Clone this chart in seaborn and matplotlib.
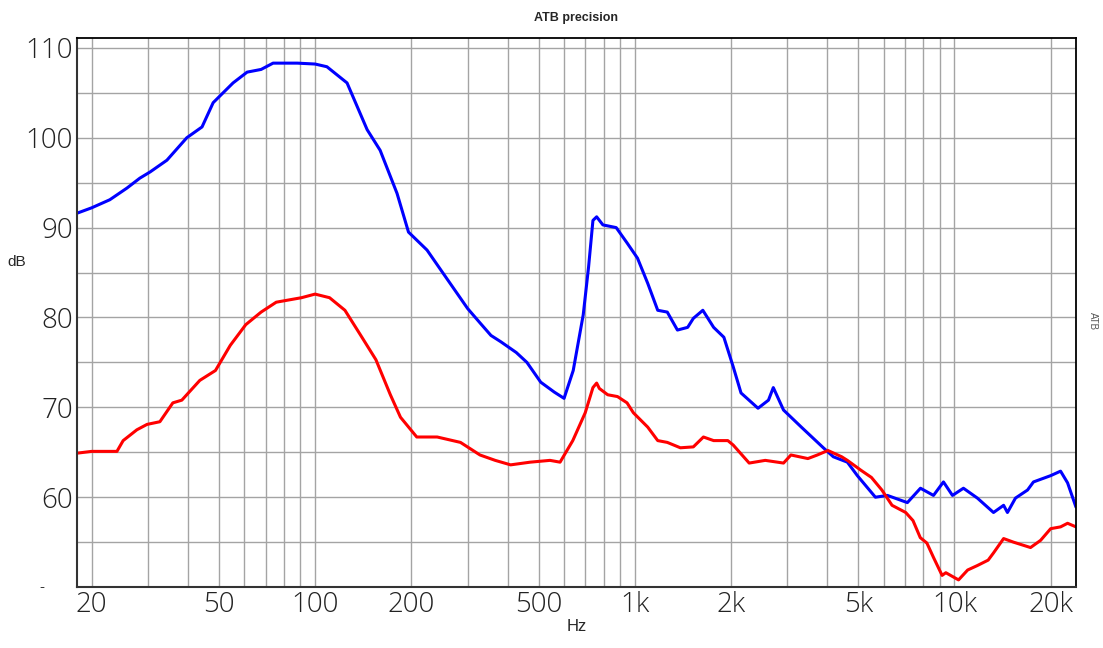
import matplotlib
matplotlib.use("Agg")
import matplotlib.pyplot as plt
import matplotlib.ticker as mticker
import numpy as np
import pandas as pd
import seaborn as sns

# blue trace (upper), frequency in Hz and level in dB
blue_hz = [18, 20, 22.8, 25.8, 28.3, 30.5, 34.4, 39.7, 44.3, 48.0, 55.4, 61.3, 67.8,
           73.9, 88.0, 100, 108.9, 125.9, 145.5, 159.8, 180.5, 196, 224, 254, 300,
           328, 355, 381, 426, 460, 508, 560, 601, 642, 690, 717, 740, 760, 795,
           875, 946, 1020, 1098, 1180, 1264, 1360, 1464, 1525, 1633, 1765, 1900,
           2033, 2150, 2430, 2620, 2713, 2920, 3320, 3890, 4180, 4625, 4970, 5660,
           6170, 7125, 7830, 8600, 9240, 9860, 10670, 11800, 13250, 14250, 14650,
           15520, 16930, 17670, 20000, 21480, 22590, 24000]
blue_db = [91.6, 92.2, 93.1, 94.4, 95.5, 96.2, 97.5, 100.0, 101.2, 103.9, 106.1, 107.3,
           107.6, 108.3, 108.3, 108.2, 107.9, 106.1, 100.9, 98.6, 93.8, 89.5, 87.5,
           84.7, 81.0, 79.4, 78.0, 77.3, 76.1, 75.0, 72.8, 71.7, 71.0, 74.1, 80.3,
           85.6, 90.8, 91.2, 90.3, 90.0, 88.3, 86.6, 83.8, 80.8, 80.6, 78.6, 78.9,
           79.9, 80.8, 78.9, 77.8, 74.5, 71.6, 69.9, 70.8, 72.2, 69.7, 67.8, 65.5,
           64.5, 63.9, 62.4, 60.0, 60.2, 59.4, 61.0, 60.2, 61.7, 60.2, 61.0, 59.9,
           58.3, 59.1, 58.3, 59.9, 60.8, 61.7, 62.4, 62.9, 61.6, 58.9]

# red trace (lower)
red_hz = [18, 20, 24.0, 25.1, 27.7, 29.8, 32.7, 35.9, 38.3, 43.6, 48.8, 54.3, 60.7,
          67.8, 75.6, 90.7, 100, 111, 124, 139, 155, 172, 185, 208, 241, 285, 328,
          366, 409, 471, 543, 584, 640, 700, 740, 760, 775, 823, 883, 946, 990,
          1098, 1180, 1264, 1389, 1525, 1640, 1765, 1955, 2033, 2280, 2560, 2920,
          3080, 3480, 3726, 4020, 4440, 4625, 5100, 5500, 5930, 6380, 7040, 7420,
          7820, 8200, 8600, 9150, 9400, 10300, 11000, 11800, 12750, 13250, 14250,
          15300, 17300, 18600, 20000, 21480, 22590, 24000]
red_db = [64.9, 65.1, 65.1, 66.3, 67.5, 68.1, 68.4, 70.5, 70.8, 73.0, 74.1, 76.9, 79.2,
          80.6, 81.7, 82.2, 82.6, 82.2, 80.8, 78.0, 75.3, 71.4, 68.9, 66.7, 66.7,
          66.1, 64.7, 64.1, 63.6, 63.9, 64.1, 63.9, 66.3, 69.4, 72.2, 72.7, 72.1,
          71.4, 71.2, 70.5, 69.4, 67.8, 66.3, 66.1, 65.5, 65.6, 66.7, 66.3, 66.3,
          65.8, 63.8, 64.1, 63.8, 64.7, 64.3, 64.7, 65.2, 64.5, 64.1, 63.0, 62.2,
          60.8, 59.1, 58.3, 57.4, 55.5, 54.9, 53.3, 51.3, 51.6, 50.8, 51.9, 52.4,
          53.0, 53.8, 55.4, 55.0, 54.4, 55.2, 56.5, 56.7, 57.1, 56.7]

x_ticks = [20, 50, 100, 200, 500, 1000, 2000, 5000, 10000, 20000]
x_labels = ["20", "50", "100", "200", "500", "1k", "2k", "5k", "10k", "20k"]
y_ticks = [60, 70, 80, 90, 100, 110]

df = pd.concat([
    pd.DataFrame({"Hz": blue_hz, "dB": blue_db, "trace": "blue"}),
    pd.DataFrame({"Hz": red_hz, "dB": red_db, "trace": "red"}),
])

sns.set_theme(style="white")
plt.rcParams["font.family"] = ["Liberation Sans", "DejaVu Sans"]
tick_font = {"family": ["Open Sans", "DejaVu Sans"], "weight": "light", "size": 20}

fig = plt.figure(figsize=(11.03, 6.48), dpi=100)
ax = fig.add_axes([0.0698, 0.094, 0.9057, 0.8474])

sns.lineplot(data=df, x="Hz", y="dB", hue="trace", palette={"blue": "#0000ff", "red": "#ff0000"},
             estimator=None, sort=False, linewidth=2.2, legend=False, ax=ax)

ax.set_xscale("log")
ax.set_xlim(18, 24000)
ax.set_ylim(50, 111.1)

grid_x = [v * m for m in (10, 100, 1000) for v in range(2, 11)] + [20000]
for gx in grid_x:
    ax.axvline(gx, color="#a4a4a4", lw=1.0, zorder=0)
for gy in range(55, 111, 5):
    ax.axhline(gy, color="#a4a4a4", lw=1.0, zorder=0)

ax.xaxis.set_major_locator(mticker.FixedLocator(x_ticks))
ax.xaxis.set_major_formatter(mticker.FixedFormatter(x_labels))
ax.xaxis.set_minor_locator(mticker.NullLocator())
ax.set_yticks(y_ticks)
ax.set_yticklabels([str(v) for v in y_ticks])
ax.tick_params(axis="both", length=0, labelcolor="#222222", pad=3)
for lab in ax.get_xticklabels() + ax.get_yticklabels():
    lab.set_fontfamily(tick_font["family"])
    lab.set_fontweight(tick_font["weight"])
    lab.set_fontsize(tick_font["size"])
ax.text(-0.035, 0.0, "-", transform=ax.transAxes, fontsize=11, ha="center", va="center", color="#333333")

for side in ["top", "right"]:
    ax.spines[side].set_color("black")
    ax.spines[side].set_linewidth(1.3)
for side in ["left", "bottom"]:
    ax.spines[side].set_color("#333333")
    ax.spines[side].set_linewidth(1.5)

ax.set_xlabel("Hz", fontsize=12, labelpad=0)
ax.set_ylabel("dB", fontsize=11, rotation=0, labelpad=10)
ax.yaxis.set_label_coords(-0.06, 0.58)
ax.set_title("ATB precision", fontsize=9, fontweight="bold", pad=12)
fig.text(0.995, 0.505, "ATB", rotation=-90, fontsize=7, color="#555555", ha="right", va="center")

fig.savefig("out.png", dpi=100, facecolor="white")
